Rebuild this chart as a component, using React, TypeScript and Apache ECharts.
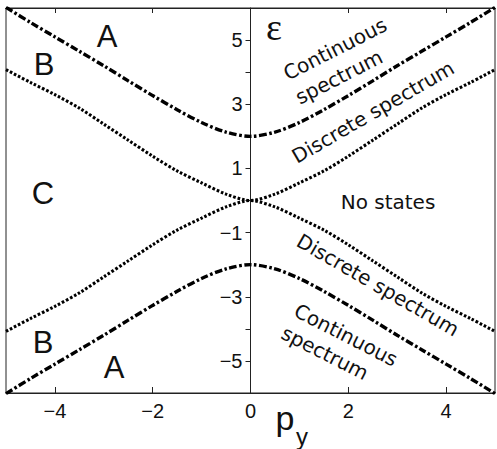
import React, { useEffect, useRef } from "react";
import * as echarts from "echarts";

// momentum p_y
const pValues = [-5, -4.5, -4, -3.5, -3, -2.5, -2, -1.5, -1, -0.5, 0, 0.5, 1, 1.5, 2, 2.5, 3, 3.5, 4, 4.5, 5];
// boundary of the continuous spectrum (dash-dot)
const continuousUpper = [6.02, 5.55, 5.1, 4.65, 4.2, 3.73, 3.27, 2.83, 2.43, 2.13, 2.0, 2.13, 2.43, 2.83, 3.27, 3.73, 4.2, 4.65, 5.1, 5.55, 6.02];
const continuousLower = [-6.02, -5.55, -5.1, -4.65, -4.2, -3.73, -3.27, -2.83, -2.43, -2.13, -2.0, -2.13, -2.43, -2.83, -3.27, -3.73, -4.2, -4.65, -5.1, -5.55, -6.02];
// boundary of the discrete spectrum (dotted)
const discreteUpper = [4.08, 3.68, 3.3, 2.88, 2.38, 1.88, 1.38, 0.92, 0.55, 0.2, 0, 0.2, 0.55, 0.92, 1.38, 1.88, 2.38, 2.88, 3.3, 3.68, 4.08];
const discreteLower = [-4.08, -3.68, -3.3, -2.88, -2.38, -1.88, -1.38, -0.92, -0.55, -0.2, 0, -0.2, -0.55, -0.92, -1.38, -1.88, -2.38, -2.88, -3.3, -3.68, -4.08];

const xTickValues = [-4, -2, 0, 2, 4];
const yTickValues = [-5, -4, -3, -2, -1, 0, 1, 2, 3, 4, 5];
const yLabelValues = [-5, -3, -1, 1, 3, 5];

const fmt = (v: number) => (v < 0 ? "\u2212" + Math.abs(v) : String(v));

const pairs = (ys: number[]) => pValues.map((p, i) => [p, ys[i]]);

const AXIS_COLOR = "#222";
const TEXT_COLOR = "#111";
const deg = (d: number) => (d * Math.PI) / 180;

export default function App() {
  const ref = useRef<HTMLDivElement>(null);
  useEffect(() => {
    if (!ref.current) return;
    const chart = echarts.init(ref.current, undefined, { renderer: "svg" });
    const dotted = { color: "#000", width: 3.1, type: [2.6, 1.9] };
    const dashDot = { color: "#000", width: 3.4, type: [7.5, 2.5, 2.6, 2.5] };
    const annot = (text: string, x: number, y: number, rot: number, size = 20, family = "DejaVu Sans") => ({
      type: "text",
      x,
      y,
      rotation: deg(rot),
      silent: true,
      style: {
        text,
        font: `${size}px "${family}"`,
        fill: TEXT_COLOR,
        textAlign: "center",
        textVerticalAlign: "middle",
        align: "center",
        verticalAlign: "middle",
      },
    });
    const plotTop = 8;
    const plotBottom = 56;
    chart.setOption({
      animation: false,
      backgroundColor: "#fff",
      grid: [
        {
          left: 6,
          right: 2,
          top: plotTop,
          bottom: plotBottom,
          show: true,
          borderColor: AXIS_COLOR,
          borderWidth: 1,
          outerBoundsMode: "none",
          containLabel: false,
        },
        {
          left: 250.5,
          right: 2,
          top: plotTop,
          bottom: plotBottom,
          show: false,
          outerBoundsMode: "none",
          containLabel: false,
        },
      ],
      xAxis: [
        {
          type: "value",
          gridIndex: 0,
          min: -5,
          max: 5,
          position: "bottom",
          axisLine: { show: true, onZero: false, lineStyle: { color: AXIS_COLOR } },
          axisTick: { show: true, inside: true, length: 6, customValues: xTickValues, lineStyle: { color: AXIS_COLOR } },
          axisLabel: {
            customValues: xTickValues,
            formatter: fmt,
            fontFamily: "Liberation Sans",
            fontSize: 20,
            color: TEXT_COLOR,
            margin: 8,
          },
          splitLine: { show: false },
        },
        {
          type: "value",
          gridIndex: 0,
          min: -5,
          max: 5,
          position: "top",
          axisLine: { show: true, onZero: false, lineStyle: { color: AXIS_COLOR } },
          axisTick: { show: true, inside: true, length: 5, customValues: xTickValues, lineStyle: { color: AXIS_COLOR } },
          axisLabel: { show: false },
          splitLine: { show: false },
        },
        {
          type: "value",
          gridIndex: 1,
          min: 0,
          max: 5,
          show: false,
        },
      ],
      yAxis: [
        {
          type: "value",
          gridIndex: 0,
          min: -6,
          max: 6,
          interval: 1,
          show: false,
        },
        {
          type: "value",
          gridIndex: 1,
          min: -6,
          max: 6,
          interval: 1,
          position: "left",
          axisLine: { show: true, onZero: false, lineStyle: { color: AXIS_COLOR } },
          axisTick: { show: true, inside: false, length: 5, customValues: yTickValues, lineStyle: { color: AXIS_COLOR } },
          axisLabel: {
            customValues: yLabelValues,
            formatter: fmt,
            fontFamily: "Liberation Sans",
            fontSize: 20,
            color: TEXT_COLOR,
            margin: 8,
          },
          splitLine: { show: false },
        },
      ],
      series: [
        { type: "line", xAxisIndex: 0, yAxisIndex: 0, data: pairs(continuousUpper), showSymbol: false, smooth: 0.3, lineStyle: dashDot, silent: true },
        { type: "line", xAxisIndex: 0, yAxisIndex: 0, data: pairs(continuousLower), showSymbol: false, smooth: 0.3, lineStyle: dashDot, silent: true },
        { type: "line", xAxisIndex: 0, yAxisIndex: 0, data: pairs(discreteUpper), showSymbol: false, smooth: 0.3, lineStyle: dotted, silent: true },
        { type: "line", xAxisIndex: 0, yAxisIndex: 0, data: pairs(discreteLower), showSymbol: false, smooth: 0.3, lineStyle: dotted, silent: true },
      ],
      graphic: [
        annot("A", 107, 36, 0, 31, "Liberation Sans"),
        annot("B", 44, 64, 0, 31, "Liberation Sans"),
        annot("C", 43, 193, 0, 31, "Liberation Sans"),
        annot("B", 43, 342, 0, 31, "Liberation Sans"),
        annot("A", 114, 367, 0, 31, "Liberation Sans"),
        annot("\u03b5", 274, 27, 0, 38, "Liberation Serif"),
        annot("p", 285, 418, 0, 34, "Liberation Sans"),
        annot("y", 302, 436, 0, 24, "Liberation Sans"),
        annot("Continuous", 335, 49, 27, 20),
        annot("spectrum", 339, 77, 27, 20),
        annot("Discrete spectrum", 373, 112, 30, 20),
        annot("No states", 388, 202, 0, 20),
        annot("Discrete spectrum", 378, 285, -30, 20),
        annot("Continuous", 346, 335, -27, 20),
        annot("spectrum", 325, 353, -27, 20),
      ],
    });
    return () => chart.dispose();
  }, []);
  return (
    <div
      ref={ref}
      style={{ position: "fixed", left: 0, top: 0, width: 497, height: 449, background: "#fff" }}
    />
  );
}
